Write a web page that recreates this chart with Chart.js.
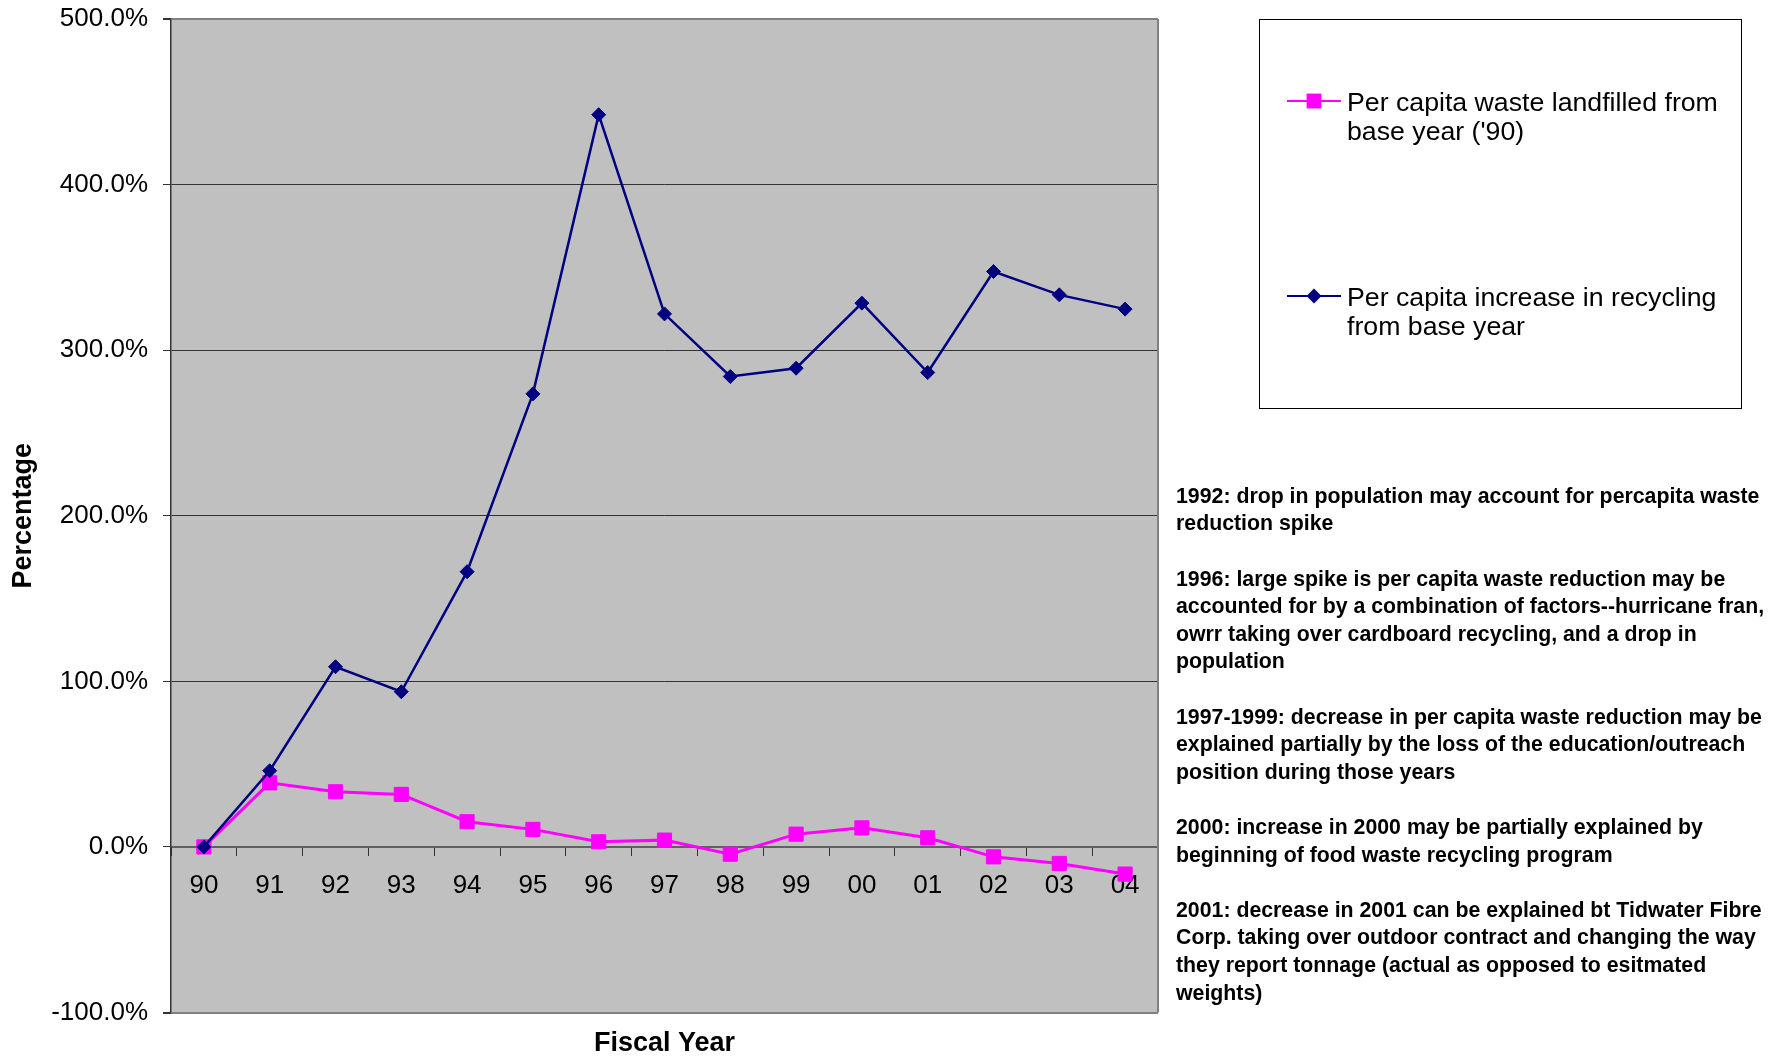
<!DOCTYPE html>
<html>
<head>
<meta charset="utf-8">
<title>Per capita waste and recycling</title>
<script src="https://cdn.jsdelivr.net/npm/chart.js@4.4.1/dist/chart.umd.min.js"></script>
<style>
    html, body { margin: 0; padding: 0; background: #fff; }
    #wrap { width: 1782px; height: 1057px; position: relative; }
</style>
</head>
<body>
<div id="wrap"><canvas id="grafico"></canvas></div>
<script>
const FONT = "'Liberation Sans', Arial, sans-serif";

const fiscalYears = ['90', '91', '92', '93', '94', '95', '96', '97', '98', '99', '00', '01', '02', '03', '04'];
const landfilledPct = [0, 38.7, 33.3, 31.7, 15.2, 10.6, 3.1, 4.1, -4.4, 7.7, 11.5, 5.5, -6.0, -10.0, -16.4];
const recyclingPct = [0, 46.0, 108.8, 93.7, 166.2, 273.6, 442.2, 321.9, 284.1, 289.1, 328.4, 286.5, 347.5, 333.4, 324.8];
const yTickValues = [-100, 0, 100, 200, 300, 400, 500];

const legendLabels = [
    ['Per capita waste landfilled from', "base year ('90)"],
    ['Per capita increase in recycling', 'from base year']
];

const notes = [
    ['1992: drop in population may account for percapita waste', 'reduction spike'],
    ['1996: large spike is per capita waste reduction may be', 'accounted for by a combination of factors--hurricane fran,', 'owrr taking over cardboard recycling, and a drop in', 'population'],
    ['1997-1999: decrease in per capita waste reduction may be', 'explained partially by the loss of the education/outreach', 'position during those years'],
    ['2000: increase in 2000 may be partially explained by', 'beginning of food waste recycling program'],
    ['2001: decrease in 2001 can be explained bt Tidwater Fibre', 'Corp. taking over outdoor contract and changing the way', 'they report tonnage (actual as opposed to esitmated', 'weights)']
];

// fondo gris del area del grafico
const plotBg = {
    id: 'plotBg',
    beforeDraw(chart) {
        const { ctx, chartArea: a } = chart;
        ctx.save();
        ctx.fillStyle = '#C0C0C0';
        ctx.fillRect(a.left, a.top, a.right - a.left, a.bottom - a.top);
        ctx.restore();
    },
    beforeDatasetsDraw(chart) {
        const { ctx, chartArea: a } = chart;
        ctx.save();
        ctx.strokeStyle = '#808080';
        ctx.lineWidth = 2;
        ctx.beginPath();
        ctx.moveTo(a.right, a.top);
        ctx.lineTo(a.right, a.bottom);
        ctx.stroke();
        ctx.restore();
    }
};

function drawMarker(ctx, style, x, y, r, color) {
    ctx.fillStyle = color;
    ctx.beginPath();
    if (style === 'rect') {
        const s = r * Math.SQRT1_2;
        ctx.rect(x - s, y - s, 2 * s, 2 * s);
    } else {
        ctx.moveTo(x - r, y);
        ctx.lineTo(x, y - r);
        ctx.lineTo(x + r, y);
        ctx.lineTo(x, y + r);
        ctx.closePath();
    }
    ctx.fill();
}

// leyenda en caja a la derecha
const legendBox = {
    id: 'legendBox',
    afterDraw(chart) {
        const ctx = chart.ctx;
        ctx.save();
        ctx.fillStyle = '#fff';
        ctx.fillRect(1259.5, 19.5, 482, 389);
        ctx.strokeStyle = '#000';
        ctx.lineWidth = 1;
        ctx.strokeRect(1259.5, 19.5, 482, 389);

        const rows = [101, 296];
        chart.data.datasets.forEach((ds, i) => {
            const y = rows[i];
            ctx.strokeStyle = ds.borderColor;
            ctx.lineWidth = 2;
            ctx.beginPath();
            ctx.moveTo(1287, y);
            ctx.lineTo(1341, y);
            ctx.stroke();
            drawMarker(ctx, ds.pointStyle, 1314, y, ds.pointStyle === 'rect' ? 10.5 : 7.5, ds.pointBackgroundColor);
            ctx.fillStyle = '#000';
            ctx.font = '26.7px ' + FONT;
            ctx.textBaseline = 'alphabetic';
            ctx.textAlign = 'left';
            legendLabels[i].forEach((t, j) => ctx.fillText(t, 1347, y + 10 + j * 29));
        });
        ctx.restore();
    }
};

// notas explicativas
const notesPlugin = {
    id: 'notes',
    afterDraw(chart) {
        const ctx = chart.ctx;
        ctx.save();
        ctx.fillStyle = '#000';
        ctx.font = 'bold 21.3px ' + FONT;
        ctx.textBaseline = 'middle';
        ctx.textAlign = 'left';
        let idx = 0;
        notes.forEach(par => {
            par.forEach(line => {
                ctx.fillText(line, 1176, 497 + idx * 27.6);
                idx++;
            });
            idx++;
        });
        ctx.restore();
    }
};

const ctx = document.getElementById('grafico').getContext('2d');
const chart = new Chart(ctx, {
    type: 'line',
    data: {
        labels: fiscalYears,
        datasets: [{
            label: legendLabels[0].join(' '),
            data: landfilledPct,
            borderColor: '#FF00FF',
            backgroundColor: '#FF00FF',
            pointBackgroundColor: '#FF00FF',
            pointBorderColor: '#FF00FF',
            pointStyle: 'rect',
            pointRadius: 10,
            pointBorderWidth: 1,
            borderWidth: 3,
            tension: 0,
            order: 1
        }, {
            label: legendLabels[1].join(' '),
            data: recyclingPct,
            borderColor: '#000080',
            backgroundColor: '#000080',
            pointBackgroundColor: '#000080',
            pointBorderColor: '#000080',
            pointStyle: 'rectRot',
            pointRadius: 7,
            pointBorderWidth: 1,
            borderWidth: 2.5,
            tension: 0,
            order: 0
        }]
    },
    options: {
        responsive: true,
        maintainAspectRatio: false,
        animation: false,
        layout: { padding: { top: 19, right: 624, left: 0, bottom: 0 } },
        scales: {
            x: {
                type: 'category',
                position: { y: 0 },
                offset: true,
                afterFit: scale => { scale.paddingTop = 0; scale.paddingBottom = 0; },
                grid: {
                    offset: true,
                    drawOnChartArea: false,
                    drawTicks: true,
                    tickLength: 8,
                    color: '#333',
                    tickColor: '#333'
                },
                border: { display: true, color: '#606060', width: 2 },
                ticks: {
                    color: '#000',
                    font: { size: 26, family: FONT },
                    padding: 15,
                    maxRotation: 0,
                    autoSkip: false
                }
            },
            y: {
                min: -100,
                max: 500,
                afterBuildTicks: scale => {
                    scale.ticks = yTickValues.map(v => ({ value: v }));
                },
                afterFit: scale => { scale.width = 171; scale.paddingTop = 0; scale.paddingBottom = 0; },
                ticks: {
                    color: '#000',
                    font: { size: 26, family: FONT },
                    padding: 15,
                    callback: value => value.toFixed(1) + '%'
                },
                grid: {
                    color: c => (c.tick && (c.tick.value === 500 || c.tick.value === -100)) ? '#808080' : '#333',
                    lineWidth: c => (c.tick && (c.tick.value === 500 || c.tick.value === -100)) ? 2 : 1,
                    tickColor: '#333',
                    tickLength: 8,
                    drawTicks: true
                },
                border: { display: true, color: '#333', width: 1.5 },
                title: {
                    display: true,
                    text: 'Percentage',
                    color: '#000',
                    font: { size: 27, weight: 'bold', family: FONT },
                    padding: { top: 7, bottom: 0 }
                }
            }
        },
        plugins: {
            legend: { display: false },
            tooltip: { enabled: false },
            title: {
                display: true,
                text: 'Fiscal Year',
                position: 'bottom',
                fullSize: false,
                color: '#000',
                font: { size: 27, weight: 'bold', family: FONT, lineHeight: 1.0 },
                padding: { top: 17.5, bottom: 0 }
            }
        }
    },
    plugins: [plotBg, legendBox, notesPlugin]
});
</script>
</body>
</html>
